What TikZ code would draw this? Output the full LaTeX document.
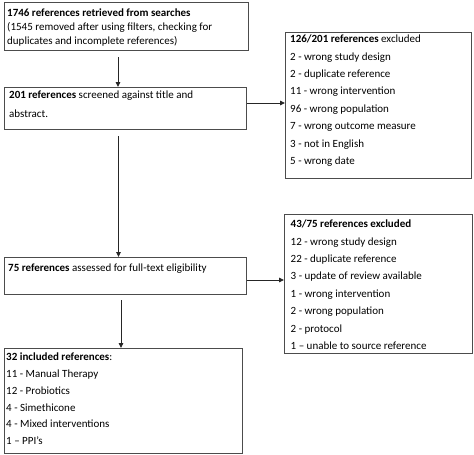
\documentclass[tikz,border=0pt]{standalone}
\usepackage{fontspec}
\setmainfont{Carlito}
\usetikzlibrary{arrows.meta}
\newcommand\myst{\rule{0pt}{9pt}}
\begin{document}
\begin{tikzpicture}[x=1pt,y=-1pt,
  box/.style={draw=black!70, line width=1.1pt, anchor=north west, inner sep=0pt},
  txt/.style={anchor=north west, inner sep=0pt, align=left, font=\fontsize{11}{17.4}\selectfont},
  arr/.style={draw=black!85, line width=0.9pt, -{Triangle[length=5pt,width=4.5pt]}}]
\useasboundingbox (0,0) rectangle (474,455);
% boxes
\node[box, minimum width=244pt, minimum height=48pt] (b1) at (4,2) {};
\node[box, minimum width=242pt, minimum height=42pt] (b2) at (4,87) {};
\node[box, minimum width=186pt, minimum height=146pt] (b3) at (285,32) {};
\node[box, minimum width=188pt, minimum height=139pt] (b4) at (284,214) {};
\node[box, minimum width=242pt, minimum height=37pt] (b5) at (4,257) {};
\node[box, minimum width=238pt, minimum height=105pt] (b6) at (4,348) {};
% texts
\node[txt, font=\fontsize{11}{14}\selectfont] (t1) at (7,7.5) {\myst\textbf{1746 references retrieved from searches}\\(1545 removed after using filters, checking for\\duplicates and incomplete references)};
\node[txt, font=\fontsize{11}{19}\selectfont] (t2) at (9,89.5) {\myst\textbf{201 references} screened against title and\\abstract.};
\node[txt] (t3) at (290,33.5) {\myst\textbf{126/201 references} excluded\\2 - wrong study design\\2 - duplicate reference\\11 - wrong intervention\\96 - wrong population\\7 - wrong outcome measure\\3 - not in English\\5 - wrong date};
\node[txt] (t4) at (290.5,218.5) {\myst\textbf{43/75 references excluded}\\12 - wrong study design\\22 - duplicate reference\\3 - update of review available\\1 - wrong intervention\\2 - wrong population\\2 - protocol\\1 – unable to source reference};
\node[txt] (t5) at (8,262.5) {\myst\textbf{75 references} assessed for full-text eligibility};
\node[txt, font=\fontsize{11}{16.8}\selectfont] (t6) at (6,351.5) {\myst\textbf{32 included references}:\\11 - Manual Therapy\\12 - Probiotics\\4 - Simethicone\\4 - Mixed interventions\\1 – PPI’s};
% connectors
\coordinate (a1s) at ([yshift=-6pt]b1.south -| 118,0);
\coordinate (a2s) at ([yshift=-6pt]b2.south -| 118.5,0);
\coordinate (a3s) at ([yshift=-5pt]b5.south -| 121,0);
\draw[arr] (a1s) -- (a1s |- b2.north);
\draw[arr] (a2s) -- (a2s |- b5.north);
\draw[arr] (a3s) -- (a3s |- b6.north);
\draw[arr] (b2.east |- 0,103) -- (b3.west |- 0,103);
\draw[arr] (b5.east |- 0,280) -- (b4.west |- 0,280);
\end{tikzpicture}
\end{document}
